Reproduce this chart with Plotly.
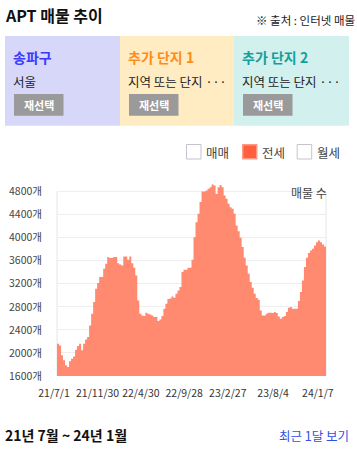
import plotly.graph_objects as go
import pandas as pd

# ---- data ----
start_date = "2021-07-01"
jeonse_counts = [
    2160, 2130, 1958, 1872, 1785, 1756, 1854, 1900, 1940, 2056,
    2120, 2160, 2045, 2160, 2235, 2276, 2478, 2680, 2883, 3114,
    3212, 3316, 3316, 3460, 3547, 3663, 3645, 3645, 3663, 3663,
    3558, 3535, 3518, 3675, 3675, 3616, 3675, 3558, 3478, 3345,
    2911, 2680, 2651, 2640, 2697, 2680, 2669, 2651, 2622, 2622,
    2553, 2582, 2640, 2767, 2854, 2934, 2946, 2981, 2958, 3027,
    3085, 3143, 3402, 3445, 3445, 3478, 3478, 3616, 4009, 4269,
    4413, 4620, 4800, 4800, 4818, 4847, 4876, 4922, 4905, 4755,
    4876, 4915, 4876, 4731, 4673, 4587, 4529, 4500, 4413, 4211,
    4113, 3998, 3836, 3651, 3518, 3374, 3229, 3131, 3027, 2952,
    2923, 2738, 2651, 2651, 2680, 2697, 2697, 2692, 2709, 2692,
    2634, 2594, 2622, 2640, 2709, 2784, 2796, 2767, 2767, 2767,
    2900, 3056, 3258, 3489, 3651, 3732, 3778, 3807, 3865, 3922,
    3951, 3922, 3882, 3847, 3807,
]
dates = pd.date_range(start_date, periods=len(jeonse_counts), freq="7D")

x_tick_dates = ["2021-07-01", "2021-11-30", "2022-04-30", "2022-09-28",
                "2023-02-27", "2023-08-04", "2024-01-07"]
x_tick_labels = ["21/7/1", "21/11/30", "22/4/30", "22/9/28",
                 "23/2/27", "23/8/4", "24/1/7"]
y_tick_vals = [1600, 2000, 2400, 2800, 3200, 3600, 4000, 4400, 4800]
y_tick_labels = [f"{v}개" for v in y_tick_vals]

legend_items = ["매매", "전세", "월세"]
legend_active = [False, True, False]

panel_titles = ["송파구", "추가 단지 1", "추가 단지 2"]
panel_subtitles = ["서울", "지역 또는 단지 ···", "지역 또는 단지 ···"]

FONT = "Noto Sans CJK KR"
AREA = "#ff8a70"

fig = go.Figure()
fig.add_trace(go.Scatter(
    x=dates, y=jeonse_counts, mode="lines", line=dict(width=0, color=AREA, shape="hv"),
    fill="tozeroy", fillcolor=AREA, hoverinfo="skip", showlegend=False,
))

W, H = 357, 449
L, R, T, B = 57, 31, 180, 73

def px(x):  # paper coords helper for layout elements
    return (x - L) / (W - L - R)

def py(y):
    return (H - B - y) / (H - T - B)

shapes = []
annotations = []

def note(x, y, text, size, color, xanchor="left"):
    annotations.append(dict(x=px(x), y=py(y), xref="paper", yref="paper", text=text,
                            showarrow=False, xanchor=xanchor, yanchor="middle",
                            borderpad=0, borderwidth=0,
                            font=dict(family=FONT, size=size, color=color)))

# header
note(5, 15, "<b>APT 매물 추이</b>", 16, "#111")
note(355, 20, "※ 출처 : 인터넷 매물", 11.5, "#222", "right")

# panels
panel_x = [(5, 120), (120, 234), (234, 349)]
panel_bg = ["#d7d7fa", "#ffecc2", "#d2f0ee"]
panel_col = ["#3a3aff", "#ff8c1a", "#12a09a"]
for (x0, x1), bg, col, t, s in zip(panel_x, panel_bg, panel_col, panel_titles, panel_subtitles):
    shapes.append(dict(type="rect", xref="paper", yref="paper", x0=px(x0), x1=px(x1),
                       y0=py(125.7), y1=py(36), fillcolor=bg, line=dict(width=0), layer="below"))
    tx = x0 + 9
    note(tx - 1, 57, f"<b>{t}</b>", 14, col)
    note(tx - 1, 81, s, 12.5, "#222")
    shapes.append(dict(type="rect", xref="paper", yref="paper", x0=px(tx), x1=px(tx + 49.5),
                       y0=py(115.7), y1=py(94), fillcolor="#9a9a9a", line=dict(width=0)))
    note(tx + 24.75, 105, "<b>재선택</b>", 11, "white", "center")

# legend checkboxes
box_x = [186, 242, 296.7]
for bx, lab, act in zip(box_x, legend_items, legend_active):
    if act:
        shapes.append(dict(type="rect", xref="paper", yref="paper", x0=px(bx), x1=px(bx + 15.5),
                           y0=py(159.5), y1=py(144), fillcolor="#ff9a85", line=dict(width=0)))
        shapes.append(dict(type="rect", xref="paper", yref="paper", x0=px(bx + 1.5), x1=px(bx + 14),
                           y0=py(158), y1=py(145.5), fillcolor="#ff5f3f", line=dict(width=0)))
    else:
        shapes.append(dict(type="rect", xref="paper", yref="paper", x0=px(bx + 0.5), x1=px(bx + 15),
                           y0=py(159), y1=py(144.5), fillcolor="white",
                           line=dict(width=1, color="#c4c4cc")))
    note(bx + 20, 152.5, lab, 12.5, "#444")

# chart frame vertical lines
for xe in (0, 1):
    shapes.append(dict(type="line", xref="paper", yref="y", x0=xe, x1=xe, y0=1600, y1=4800,
                       line=dict(color="#e6e6e6", width=1), layer="below"))

note(W - R + 1, 192.5, "매물 수", 12, "#444", "right")

# footer
note(5, 435, "<b>21년 7월 ~ 24년 1월</b>", 14, "#111")
note(349, 435, "최근 1달 보기", 12.5, "#2e4fe8", "right")

fig.update_layout(
    width=W, height=H,
    margin=dict(l=L, r=R, t=T, b=B, pad=0, autoexpand=False),
    paper_bgcolor="white", plot_bgcolor="white",
    font=dict(family=FONT),
    shapes=shapes, annotations=annotations,
    xaxis=dict(
        type="date", range=[dates[0], dates[-1]],
        tickvals=x_tick_dates, ticktext=x_tick_labels, tickangle=0, automargin=False,
        showgrid=False, zeroline=False, showline=False, ticks="",
        ticklabelstandoff=9, ticklabelshift=-3,
        tickfont=dict(family=FONT, size=10.5, color="#333"),
    ),
    yaxis=dict(
        range=[1600, 5000], tickvals=y_tick_vals, ticktext=y_tick_labels, automargin=False,
        showgrid=True, gridcolor="#eeeeee", gridwidth=1, zeroline=False, showline=False,
        ticks="", ticklabelstandoff=14,
        tickfont=dict(family=FONT, size=10.5, color="#444"),
    ),
)

fig.write_html("out.html", config={"displayModeBar": False, "staticPlot": True},
               post_script="document.body.style.margin='0';document.body.style.overflow='hidden';")
